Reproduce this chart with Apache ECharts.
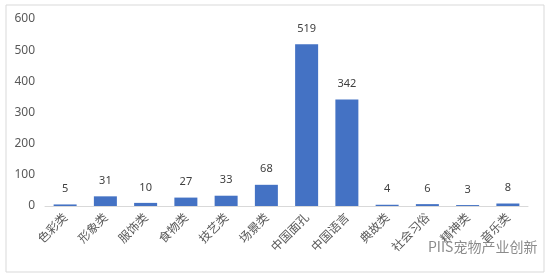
<!DOCTYPE html>
<html><head><meta charset="utf-8">
<script src="https://cdn.jsdelivr.net/npm/echarts@6/dist/echarts.min.js"></script>
<style>html,body{margin:0;padding:0;background:#fff;}#c{width:550px;height:276px;}</style>
</head><body><div id="c"></div>
<script>
const categories = ['色彩类','形象类','服饰类','食物类','技艺类','场景类','中国面孔','中国语言','典故类','社会习俗','精神类','音乐类'];
const values = [5,31,10,27,33,68,519,342,4,6,3,8];
const yTicks = [0,100,200,300,400,500,600];

const chart = echarts.init(document.getElementById('c'), null, {renderer:'canvas'});
chart.setOption({
  animation:false,
  backgroundColor:'#fff',
  grid:{left:45,right:22,top:19,bottom:70,containLabel:false},
  xAxis:{type:'category',data:categories,
    axisLine:{lineStyle:{color:'#d9d9d9'}},axisTick:{show:false},
    axisLabel:{rotate:45,color:'#595959',fontSize:12,interval:0,margin:9,fontFamily:'Noto Sans CJK SC'}},
  yAxis:{type:'value',min:yTicks[0],max:yTicks[yTicks.length-1],interval:100,
    splitLine:{show:false},axisLine:{show:false},axisTick:{show:false},
    axisLabel:{color:'#595959',fontSize:12,margin:10,fontFamily:'Noto Sans'}},
  series:[{type:'bar',data:values,barWidth:23,
    itemStyle:{color:'#4472C4'},
    label:{show:true,position:'top',distance:10,color:'#404040',fontSize:11,fontFamily:'Noto Sans'}}],
  graphic:[
    {type:'rect',shape:{x:6,y:5,width:538,height:267},style:{fill:'none',stroke:'#d9d9d9',lineWidth:1},z:-1},
    {type:'text',x:428,y:240,style:{text:'PIIS宠物产业创新',fill:'rgba(110,110,110,0.8)',font:'14px "Noto Sans CJK SC"'},z:10}
  ]
});
</script></body></html>
